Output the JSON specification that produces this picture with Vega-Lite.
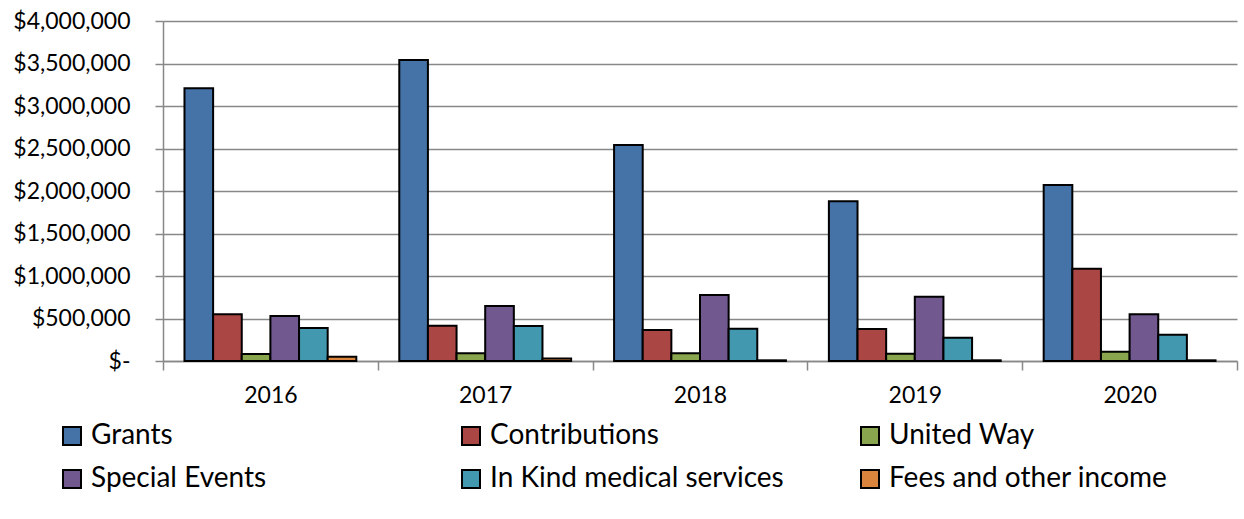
{
  "$schema": "https://vega.github.io/schema/vega-lite/v6.json",
  "autosize": "none",
  "width": 1074,
  "height": 340,
  "padding": {"left": 163, "top": 21, "right": 7, "bottom": 158},
  "background": "white",
  "data": {
    "values": [
      {"year": "2016", "source": "Grants", "amount": 3210000},
      {"year": "2016", "source": "Contributions", "amount": 550000},
      {"year": "2016", "source": "United Way", "amount": 82000},
      {"year": "2016", "source": "Special Events", "amount": 530000},
      {"year": "2016", "source": "In Kind medical services", "amount": 388000},
      {"year": "2016", "source": "Fees and other income", "amount": 50000},
      {"year": "2017", "source": "Grants", "amount": 3540000},
      {"year": "2017", "source": "Contributions", "amount": 415000},
      {"year": "2017", "source": "United Way", "amount": 90000},
      {"year": "2017", "source": "Special Events", "amount": 647000},
      {"year": "2017", "source": "In Kind medical services", "amount": 412000},
      {"year": "2017", "source": "Fees and other income", "amount": 30000},
      {"year": "2018", "source": "Grants", "amount": 2540000},
      {"year": "2018", "source": "Contributions", "amount": 365000},
      {"year": "2018", "source": "United Way", "amount": 90000},
      {"year": "2018", "source": "Special Events", "amount": 776000},
      {"year": "2018", "source": "In Kind medical services", "amount": 380000},
      {"year": "2018", "source": "Fees and other income", "amount": 8000},
      {"year": "2019", "source": "Grants", "amount": 1880000},
      {"year": "2019", "source": "Contributions", "amount": 376000},
      {"year": "2019", "source": "United Way", "amount": 86000},
      {"year": "2019", "source": "Special Events", "amount": 757000},
      {"year": "2019", "source": "In Kind medical services", "amount": 274000},
      {"year": "2019", "source": "Fees and other income", "amount": 8000},
      {"year": "2020", "source": "Grants", "amount": 2070000},
      {"year": "2020", "source": "Contributions", "amount": 1086000},
      {"year": "2020", "source": "United Way", "amount": 110000},
      {"year": "2020", "source": "Special Events", "amount": 549000},
      {"year": "2020", "source": "In Kind medical services", "amount": 310000},
      {"year": "2020", "source": "Fees and other income", "amount": 8000}
    ]
  },
  "mark": {"type": "bar", "stroke": "black", "strokeWidth": 2},
  "encoding": {
    "x": {
      "field": "year",
      "type": "nominal",
      "scale": {"paddingInner": 0, "paddingOuter": 0},
      "axis": {
        "title": null,
        "labelAngle": 0,
        "tickBand": "extent",
        "tickSize": 9,
        "labelPadding": 14,
        "domainColor": "#888888",
        "tickColor": "#888888",
        "domainWidth": 1.5,
        "tickWidth": 1.5,
        "grid": false
      }
    },
    "xOffset": {
      "field": "source",
      "sort": ["Grants", "Contributions", "United Way", "Special Events", "In Kind medical services", "Fees and other income"],
      "scale": {"paddingOuter": 0.75, "paddingInner": 0}
    },
    "y": {
      "field": "amount",
      "type": "quantitative",
      "scale": {"domain": [0, 4000000], "nice": false},
      "axis": {
        "title": null,
        "values": [0, 500000, 1000000, 1500000, 2000000, 2500000, 3000000, 3500000, 4000000],
        "labelExpr": "datum.value === 0 ? '$-\u00a0\u00a0' : '$' + format(datum.value, ',')",
        "tickSize": 8,
        "labelPadding": 25,
        "domainColor": "#888888",
        "tickColor": "#888888",
        "gridColor": "#888888",
        "domainWidth": 1.5,
        "tickWidth": 1.5,
        "gridWidth": 1.5,
        "grid": true
      }
    },
    "color": {
      "field": "source",
      "type": "nominal",
      "sort": ["Grants", "Contributions", "United Way", "Special Events", "In Kind medical services", "Fees and other income"],
      "scale": {
        "domain": ["Grants", "Contributions", "United Way", "Special Events", "In Kind medical services", "Fees and other income"],
        "range": ["#4572A7", "#AA4643", "#89A54E", "#71588F", "#4198AF", "#DB843D"]
      },
      "legend": {
        "title": null,
        "orient": "none",
        "direction": "horizontal",
        "legendX": -105,
        "legendY": 401,
        "columns": 3,
        "gridAlign": "all",
        "columnPadding": 72,
        "rowPadding": 15,
        "symbolType": "square",
        "symbolSize": 324,
        "symbolStrokeColor": "black",
        "symbolStrokeWidth": 2,
        "labelFontSize": 28,
        "labelOffset": 5,
        "labelLimit": 500,
        "labelColor": "black",
        "labelFont": "Lato"
      }
    }
  },
  "config": {
    "view": {"stroke": null},
    "axis": {"labelFont": "Lato", "labelFontSize": 23, "labelColor": "black"}
  }
}
